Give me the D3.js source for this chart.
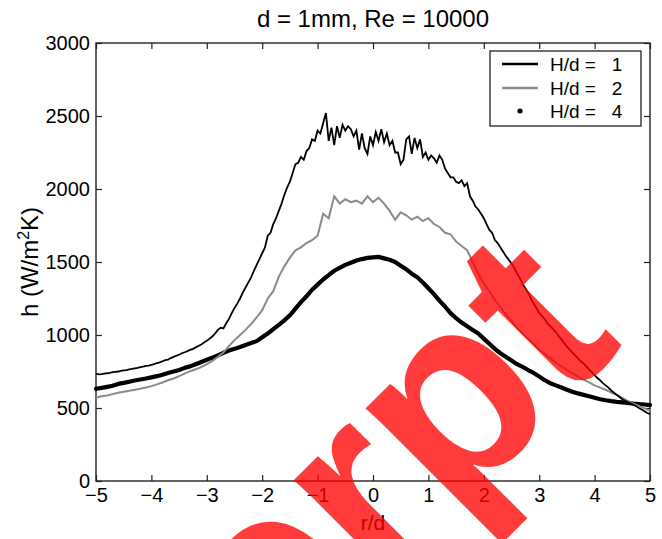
<!DOCTYPE html>
<html>
<head>
<meta charset="utf-8">
<script src="https://cdn.jsdelivr.net/npm/d3@7"></script>
<style>
  body { margin: 0; background: #fff; }
  svg { display: block; font-family: "Liberation Sans", Arial, sans-serif; }
</style>
</head>
<body>
<div id="chart"></div>
<script>
const hd1 = [
  735, 730, 732, 735, 738, 740, 745, 748, 750, 755, 758, 760, 765, 768, 772, 775, 780, 783, 788, 790,
  795, 800, 808, 812, 820, 828, 832, 842, 850, 858, 865, 875, 882, 890, 898, 905, 915, 925, 935, 948,
  960, 975, 990, 1010, 1035, 1050, 1045, 1080, 1110, 1150, 1185, 1215, 1250, 1290, 1325, 1360, 1395, 1440, 1480, 1520,
  1560, 1600, 1680, 1700, 1760, 1800, 1850, 1900, 1960, 2010, 2050, 2110, 2170, 2180, 2220, 2200, 2260, 2280, 2340, 2330,
  2400, 2380, 2450, 2520, 2330, 2420, 2300, 2430, 2350, 2440, 2400, 2430, 2410, 2360, 2400, 2270, 2380, 2280, 2240, 2360,
  2300, 2390, 2330, 2410, 2320, 2380, 2300, 2330, 2250, 2250, 2170, 2200, 2340, 2360, 2240, 2350, 2280, 2340, 2220, 2250,
  2200, 2230, 2210, 2180, 2230, 2200, 2140, 2110, 2080, 2080, 2050, 2040, 2060, 2020, 2040, 1950, 1920, 1880, 1860, 1830,
  1800, 1760, 1720, 1700, 1650, 1630, 1600, 1570, 1540, 1515, 1490, 1460, 1420, 1390, 1350, 1320, 1290, 1250, 1215, 1185,
  1150, 1130, 1110, 1080, 1060, 1040, 1020, 995, 970, 945, 920, 900, 880, 860, 840, 820, 805, 785, 765, 745,
  725, 705, 690, 670, 655, 640, 620, 605, 590, 575, 560, 550, 540, 532, 522, 512, 500, 490, 478, 466,
  458
];
const hd2 = [
  570, 580, 585, 595, 605, 612, 618, 625, 632, 640,
  650, 662, 675, 690, 702, 718, 735, 752, 765, 780,
  800, 822, 850, 880, 925, 965, 1000, 1035, 1075, 1120,
  1170, 1250, 1300, 1400, 1470, 1530, 1580, 1600, 1630, 1650,
  1680, 1830, 1800, 1950, 1900, 1930, 1910, 1920, 1900, 1950,
  1910, 1940, 1900, 1850, 1790, 1840, 1820, 1790, 1810, 1780,
  1800, 1760, 1740, 1700, 1690, 1640, 1610, 1580, 1500, 1420,
  1355, 1300, 1240, 1190, 1140, 1095, 1050, 1010, 975, 940,
  900, 870, 840, 810, 785, 760, 738, 715, 695, 675,
  655, 640, 625, 605, 590, 570, 548, 530, 515, 498,
  480
];
const hd4 = [
  632, 638, 645, 652, 665, 672, 680, 688, 695, 702,
  710, 718, 728, 740, 750, 760, 775, 785, 800, 815,
  830, 845, 860, 878, 893, 905, 918, 932, 945, 958,
  985, 1010, 1040, 1070, 1100, 1135, 1180, 1225, 1265, 1310,
  1345, 1380, 1410, 1440, 1460, 1480, 1495, 1510, 1520, 1528,
  1532, 1535, 1525, 1515, 1500, 1475, 1450, 1420, 1395, 1360,
  1320, 1280, 1235, 1195, 1150, 1115, 1085, 1060, 1035, 1010,
  975, 940, 905, 875, 850, 825, 800, 782, 760, 740,
  715, 690, 670, 655, 640, 625, 612, 600, 590, 580,
  570, 560, 553, 547, 542, 538, 534, 530, 527, 524,
  520
];
const rFine   = hd1.map((_, i) => -5 + i * 0.05);
const rCoarse = hd2.map((_, i) => -5 + i * 0.1);

const xTicks = [-5, -4, -3, -2, -1, 0, 1, 2, 3, 4, 5];
const yTicks = [0, 500, 1000, 1500, 2000, 2500, 3000];
const legendLabels = ['H/d =   1', 'H/d =   2', 'H/d =   4'];

const W = 662, H = 539;
const plotL = 96, plotR = 650, plotT = 43, plotB = 481;

const svg = d3.select('#chart').append('svg')
  .attr('width', W).attr('height', H);

const x = d3.scaleLinear().domain([-5, 5]).range([plotL, plotR]);
const y = d3.scaleLinear().domain([0, 3000]).range([plotB, plotT]);

// ── Axes (MATLAB style box, ticks inward) ────────────────────────────────
svg.append('rect')
  .attr('x', plotL).attr('y', plotT)
  .attr('width', plotR - plotL).attr('height', plotB - plotT)
  .attr('fill', 'none').attr('stroke', '#222').attr('stroke-width', 1.4);

function styleAxis(g) {
  g.select('.domain').remove();
  g.selectAll('line').attr('stroke', '#222').attr('stroke-width', 1.2);
  g.selectAll('text').attr('fill', '#000').style('font-size', '20px');
}

svg.append('g').attr('transform', `translate(0,${plotB})`)
  .call(d3.axisBottom(x).tickValues(xTicks).tickSize(-6).tickPadding(7).tickFormat(d3.format('d')))
  .call(styleAxis);
svg.append('g').attr('transform', `translate(0,${plotT})`)
  .call(d3.axisTop(x).tickValues(xTicks).tickSize(-6).tickFormat(''))
  .call(styleAxis);
svg.append('g').attr('transform', `translate(${plotL},0)`)
  .call(d3.axisLeft(y).tickValues(yTicks).tickSize(-6).tickPadding(6).tickFormat(d3.format('d')))
  .call(styleAxis);
svg.append('g').attr('transform', `translate(${plotR},0)`)
  .call(d3.axisRight(y).tickValues(yTicks).tickSize(-6).tickFormat(''))
  .call(styleAxis);

// ── Series ───────────────────────────────────────────────────────────────
const line = d3.line().x(d => x(d[0])).y(d => y(d[1]));

svg.append('path')
  .datum(rCoarse.map((r, i) => [r, hd4[i]]))
  .attr('d', line)
  .attr('fill', 'none').attr('stroke', '#000').attr('stroke-width', 4.2)
  .attr('stroke-linejoin', 'round').attr('stroke-linecap', 'round');

svg.append('path')
  .datum(rCoarse.map((r, i) => [r, hd2[i]]))
  .attr('d', line)
  .attr('fill', 'none').attr('stroke', '#8a8a8a').attr('stroke-width', 2);

svg.append('path')
  .datum(rFine.map((r, i) => [r, hd1[i]]))
  .attr('d', line)
  .attr('fill', 'none').attr('stroke', '#000').attr('stroke-width', 1.8);

// ── Labels ───────────────────────────────────────────────────────────────
svg.append('text')
  .attr('x', (plotL + plotR) / 2).attr('y', 27)
  .attr('text-anchor', 'middle')
  .style('font-size', '24px')
  .text('d = 1mm, Re = 10000');

svg.append('text')
  .attr('x', (plotL + plotR) / 2).attr('y', 530)
  .attr('text-anchor', 'middle')
  .style('font-size', '21px')
  .text('r/d');

const yl = svg.append('text')
  .attr('transform', `translate(38,${(plotT + plotB) / 2}) rotate(-90)`)
  .attr('text-anchor', 'middle')
  .style('font-size', '24px');
yl.append('tspan').text('h (W/m');
yl.append('tspan').attr('dy', -9).style('font-size', '16px').text('2');
yl.append('tspan').attr('dy', 9).text('K)');

// ── Legend ───────────────────────────────────────────────────────────────
const lg = svg.append('g');
lg.append('rect')
  .attr('x', 490).attr('y', 51).attr('width', 151).attr('height', 75)
  .attr('fill', '#fff').attr('stroke', '#222').attr('stroke-width', 1.3);

const rowY = [64, 88, 111];
lg.append('line').attr('x1', 502).attr('x2', 538).attr('y1', rowY[0]).attr('y2', rowY[0])
  .attr('stroke', '#000').attr('stroke-width', 2.5);
lg.append('line').attr('x1', 502).attr('x2', 538).attr('y1', rowY[1]).attr('y2', rowY[1])
  .attr('stroke', '#8a8a8a').attr('stroke-width', 2.5);
lg.append('circle').attr('cx', 520).attr('cy', rowY[2]).attr('r', 2.6).attr('fill', '#000');

lg.selectAll('.lt').data(legendLabels).join('text')
  .attr('class', 'lt')
  .attr('x', 550).attr('y', (d, i) => rowY[i])
  .attr('dy', '0.36em')
  .style('font-size', '19px')
  .style('white-space', 'pre')
  .text(d => d);

// ── Watermark ────────────────────────────────────────────────────────────
svg.append('text')
  .attr('transform', 'translate(625,344) rotate(-45)')
  .attr('text-anchor', 'end')
  .style('font-size', '261px')
  .style('font-weight', 'bold')
  .attr('fill', '#ff0000')
  .attr('fill-opacity', 0.77)
  .text('Excerpt');
</script>
</body>
</html>
